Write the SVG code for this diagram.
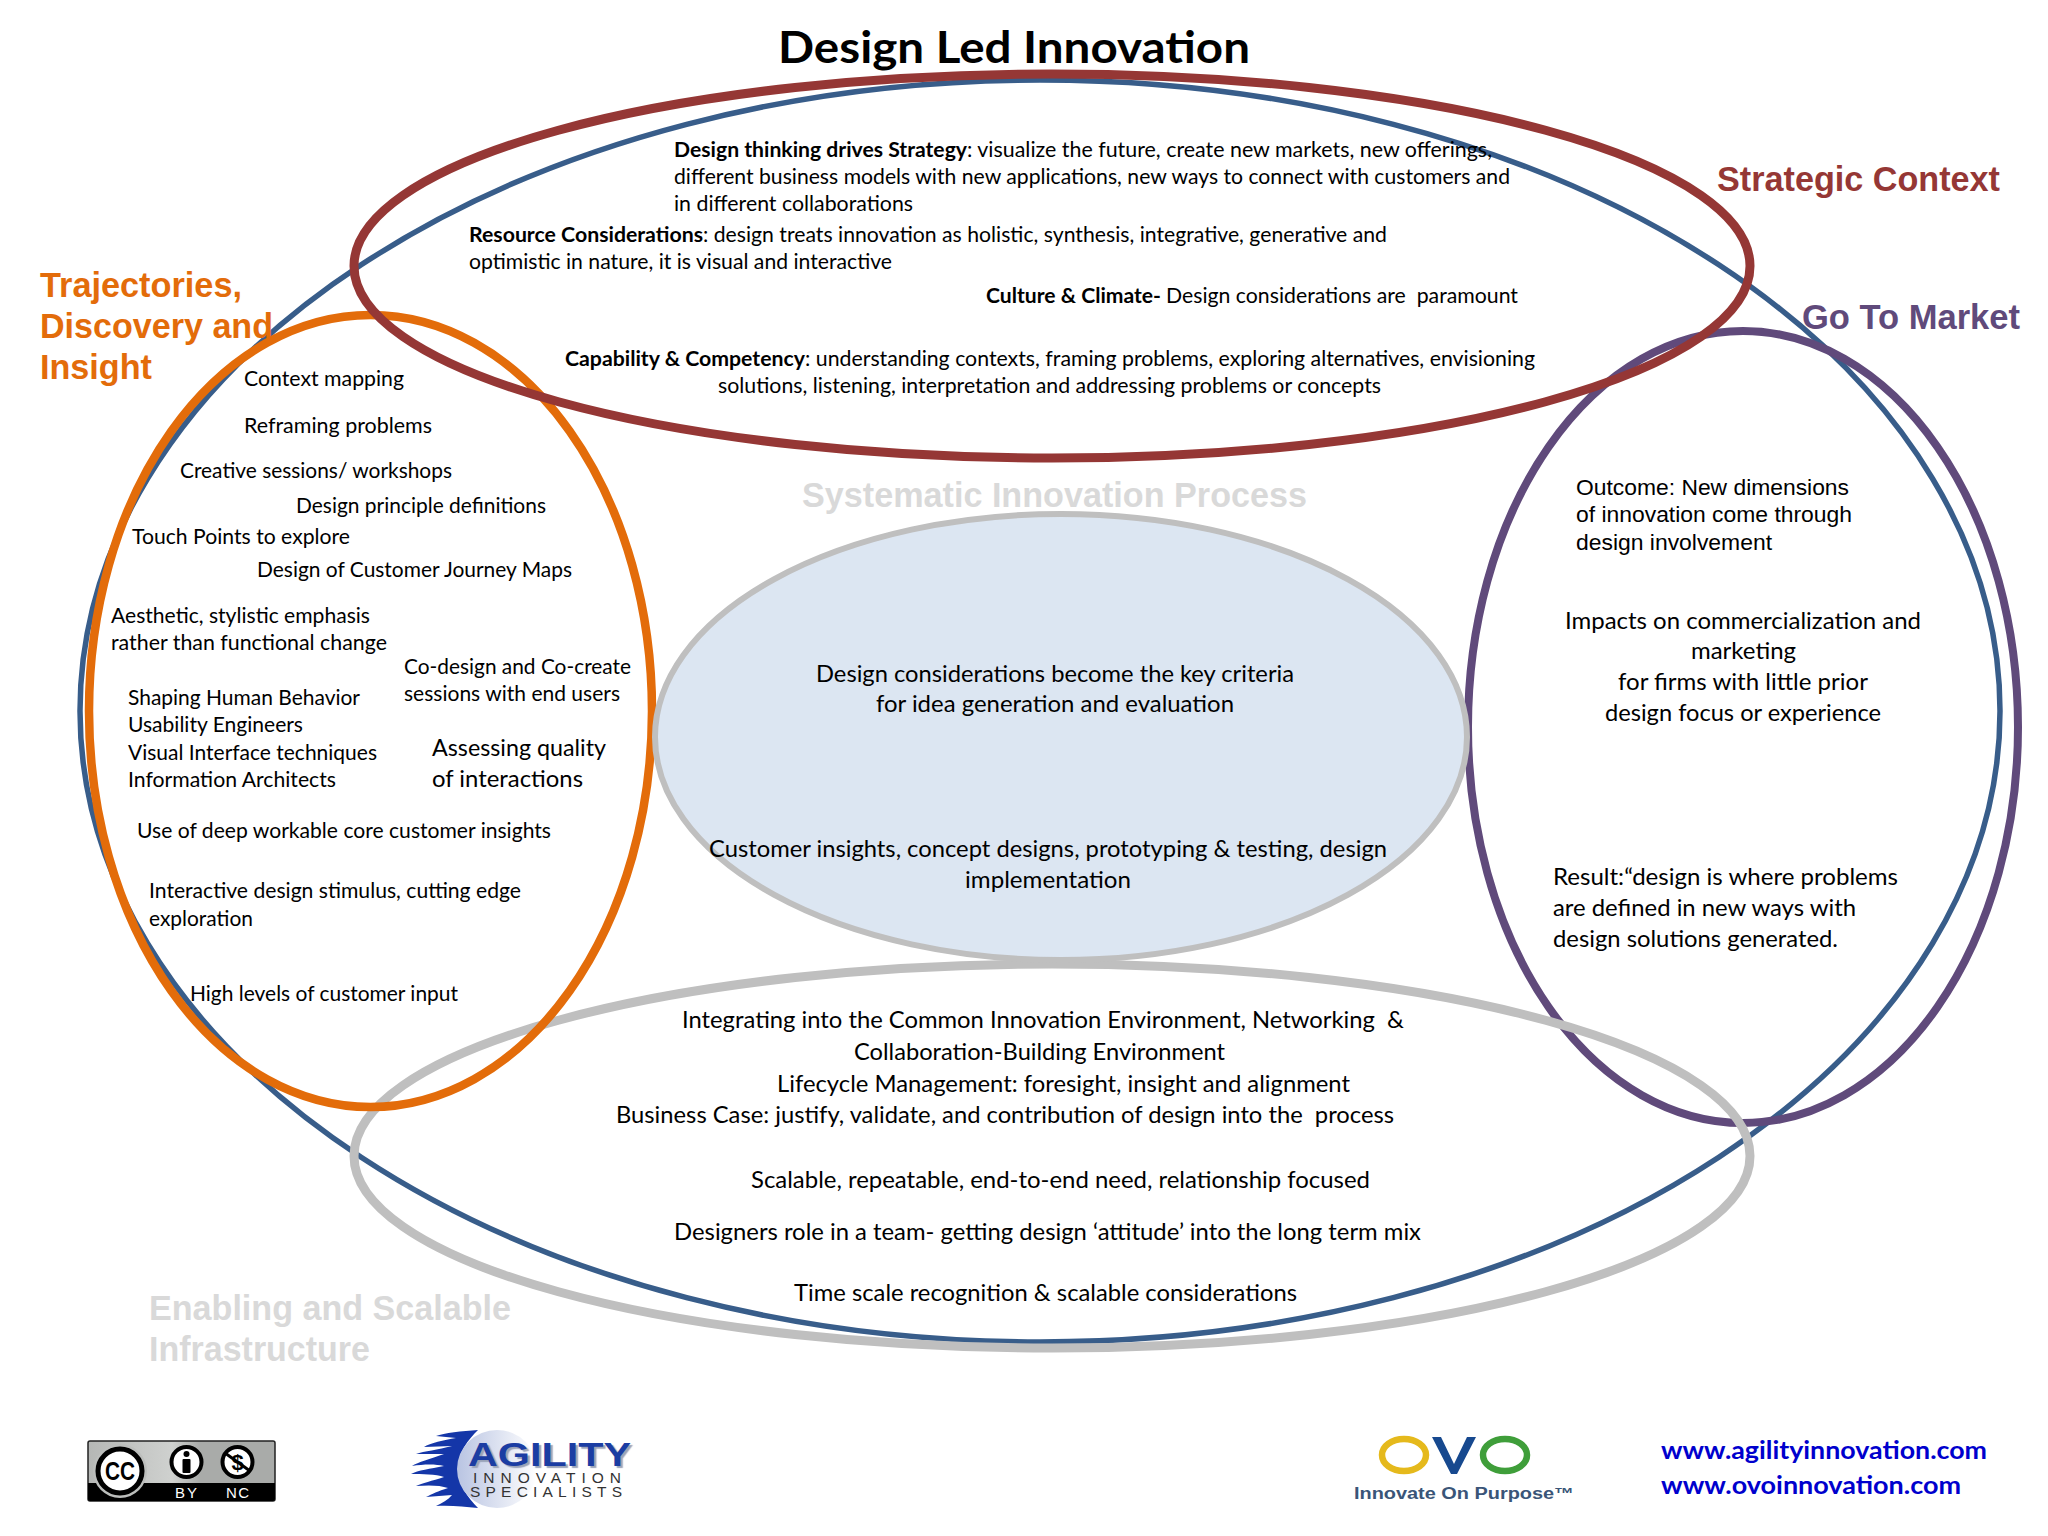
<svg xmlns="http://www.w3.org/2000/svg" width="2048" height="1536" viewBox="0 0 2048 1536">
<defs>
<style>
text{font-family:"Lato","Carlito","Liberation Sans",sans-serif;fill:#000;font-size:20.5px}
.ar{font-family:"Liberation Sans",Arial,sans-serif}
.hd{font-family:"Liberation Sans",Arial,sans-serif;font-weight:700;font-size:35px}
.m{font-size:23px}
.b{font-weight:700}
.e{fill:none}
</style>
<linearGradient id="sw" x1="0" x2="1" y1="0" y2="0"><stop offset="0" stop-color="#b9c4e2"/><stop offset="1" stop-color="#fff"/></linearGradient>
<linearGradient id="cg" x1="0" x2="1" y1="0" y2="0"><stop offset="0" stop-color="#b5b7b5"/><stop offset=".45" stop-color="#cfd1cf"/><stop offset=".6" stop-color="#a9aba9"/><stop offset="1" stop-color="#a9aba9"/></linearGradient>
</defs>
<rect width="2048" height="1536" fill="#fff"/>
<text id="title" class="b" x="778" y="63" style="font-size:44px" textLength="472" lengthAdjust="spacingAndGlyphs">Design Led Innovation</text>
<g id="systematic-outer"><ellipse class="e" cx="1040" cy="711" rx="960" ry="631" stroke="#385d8a" stroke-width="5.5"/></g>
<g id="market-shape"><ellipse class="e" cx="1743" cy="727" rx="275" ry="396" stroke="#604a7b" stroke-width="8"/></g>
<g id="enabling-shape"><ellipse class="e" cx="1052" cy="1156" rx="698" ry="192" stroke="#bfbfbf" stroke-width="9"/></g>
<g id="trajectories-shape"><ellipse class="e" cx="370.500" cy="711" rx="281.500" ry="396" stroke="#e36c0a" stroke-width="8.500"/></g>
<g id="strategic-shape"><ellipse class="e" cx="1052" cy="266" rx="698" ry="192" stroke="#953735" stroke-width="9"/></g>
<g id="process">
<ellipse cx="1061" cy="737" rx="406" ry="223" fill="#dce6f2" stroke="#bfbfbf" stroke-width="6"/>
<text class="hd" x="802" y="507" style="fill:#d9d9d9" textLength="505" lengthAdjust="spacingAndGlyphs">Systematic Innovation Process</text>
<text class="m" x="816" y="682" textLength="478" lengthAdjust="spacingAndGlyphs">Design considerations become the key criteria</text>
<text class="m" x="876" y="712" textLength="358" lengthAdjust="spacingAndGlyphs">for idea generation and evaluation</text>
<text class="m" x="709" y="857" textLength="678" lengthAdjust="spacingAndGlyphs">Customer insights, concept designs, prototyping &amp; testing, design</text>
<text class="m" x="965" y="888" textLength="166" lengthAdjust="spacingAndGlyphs">implementation</text>
</g>
<g id="strategic">
<text class="hd" x="1717" y="191" style="fill:#953735" textLength="283" lengthAdjust="spacingAndGlyphs">Strategic Context</text>
<text class="b" x="674" y="157" textLength="293" lengthAdjust="spacingAndGlyphs">Design thinking drives Strategy</text>
<text x="967" y="157" textLength="525" lengthAdjust="spacingAndGlyphs">: visualize the future, create new markets, new offerings,</text>
<text x="674" y="184" textLength="836" lengthAdjust="spacingAndGlyphs">different business models with new applications, new ways to connect with customers and</text>
<text x="674" y="211" textLength="239" lengthAdjust="spacingAndGlyphs">in different collaborations</text>
<text class="b" x="469" y="242" textLength="234" lengthAdjust="spacingAndGlyphs">Resource Considerations</text>
<text x="703" y="242" textLength="684" lengthAdjust="spacingAndGlyphs">: design treats innovation as holistic, synthesis, integrative, generative and</text>
<text x="469" y="269" textLength="423" lengthAdjust="spacingAndGlyphs">optimistic in nature, it is visual and interactive</text>
<text class="b" x="986" y="303" textLength="175" lengthAdjust="spacingAndGlyphs">Culture &amp; Climate-</text>
<text x="1166" y="303" textLength="352" lengthAdjust="spacingAndGlyphs" xml:space="preserve">Design considerations are  paramount</text>
<text class="b" x="565" y="366" textLength="240" lengthAdjust="spacingAndGlyphs">Capability &amp; Competency</text>
<text x="805" y="366" textLength="730" lengthAdjust="spacingAndGlyphs">: understanding contexts, framing problems, exploring alternatives, envisioning</text>
<text x="718" y="393" textLength="663" lengthAdjust="spacingAndGlyphs">solutions, listening, interpretation and addressing problems or concepts</text>
</g>
<g id="trajectories">
<text class="hd" x="40" y="297" style="fill:#e36c0a" textLength="202" lengthAdjust="spacingAndGlyphs">Trajectories,</text>
<text class="hd" x="40" y="338" style="fill:#e36c0a" textLength="233" lengthAdjust="spacingAndGlyphs">Discovery and</text>
<text class="hd" x="40" y="379" style="fill:#e36c0a" textLength="112" lengthAdjust="spacingAndGlyphs">Insight</text>
<text x="244" y="386" textLength="160" lengthAdjust="spacingAndGlyphs">Context mapping</text>
<text x="244" y="433" textLength="188" lengthAdjust="spacingAndGlyphs">Reframing problems</text>
<text x="180" y="478" textLength="272" lengthAdjust="spacingAndGlyphs">Creative sessions/ workshops</text>
<text x="296" y="513" textLength="250" lengthAdjust="spacingAndGlyphs">Design principle definitions</text>
<text x="132" y="544" textLength="218" lengthAdjust="spacingAndGlyphs">Touch Points to explore</text>
<text x="257" y="577" textLength="315" lengthAdjust="spacingAndGlyphs">Design of Customer Journey Maps</text>
<text x="111" y="623" textLength="259" lengthAdjust="spacingAndGlyphs">Aesthetic, stylistic emphasis</text>
<text x="111" y="650" textLength="276" lengthAdjust="spacingAndGlyphs">rather than functional change</text>
<text x="404" y="674" textLength="227" lengthAdjust="spacingAndGlyphs">Co-design and Co-create</text>
<text x="404" y="701" textLength="216" lengthAdjust="spacingAndGlyphs">sessions with end users</text>
<text x="128" y="705" textLength="232" lengthAdjust="spacingAndGlyphs">Shaping Human Behavior</text>
<text x="128" y="732" textLength="175" lengthAdjust="spacingAndGlyphs">Usability Engineers</text>
<text x="128" y="760" textLength="249" lengthAdjust="spacingAndGlyphs">Visual Interface techniques</text>
<text x="128" y="787" textLength="208" lengthAdjust="spacingAndGlyphs">Information Architects</text>
<text class="m" x="432" y="756" textLength="174" lengthAdjust="spacingAndGlyphs">Assessing quality</text>
<text class="m" x="432" y="787" textLength="151" lengthAdjust="spacingAndGlyphs">of interactions</text>
<text x="137" y="838" textLength="414" lengthAdjust="spacingAndGlyphs">Use of deep workable core customer insights</text>
<text x="149" y="898" textLength="372" lengthAdjust="spacingAndGlyphs">Interactive design stimulus, cutting edge</text>
<text x="149" y="926" textLength="104" lengthAdjust="spacingAndGlyphs">exploration</text>
<text x="190" y="1001" textLength="268" lengthAdjust="spacingAndGlyphs">High levels of customer input</text>
</g>
<g id="market">
<text class="hd" x="1802" y="329" style="fill:#604a7b" textLength="218" lengthAdjust="spacingAndGlyphs">Go To Market</text>
<text class="ar" x="1576" y="495" style="font-size:22px" textLength="273" lengthAdjust="spacingAndGlyphs">Outcome: New dimensions</text>
<text class="ar" x="1576" y="522" style="font-size:22px" textLength="276" lengthAdjust="spacingAndGlyphs">of innovation come through</text>
<text class="ar" x="1576" y="550" style="font-size:22px" textLength="196" lengthAdjust="spacingAndGlyphs">design involvement</text>
<text class="m" x="1565" y="629" textLength="356" lengthAdjust="spacingAndGlyphs">Impacts on commercialization and</text>
<text class="m" x="1691" y="659" textLength="105" lengthAdjust="spacingAndGlyphs">marketing</text>
<text class="m" x="1618" y="690" textLength="250" lengthAdjust="spacingAndGlyphs">for firms with little prior</text>
<text class="m" x="1605" y="721" textLength="276" lengthAdjust="spacingAndGlyphs">design focus or experience</text>
<text class="m" x="1553" y="885" textLength="345" lengthAdjust="spacingAndGlyphs">Result:“design is where problems</text>
<text class="m" x="1553" y="916" textLength="303" lengthAdjust="spacingAndGlyphs">are defined in new ways with</text>
<text class="m" x="1553" y="947" textLength="285" lengthAdjust="spacingAndGlyphs">design solutions generated.</text>
</g>
<g id="enabling">
<text class="hd" x="149" y="1320" style="fill:#d9d9d9" textLength="362" lengthAdjust="spacingAndGlyphs">Enabling and Scalable</text>
<text class="hd" x="149" y="1361" style="fill:#d9d9d9" textLength="221" lengthAdjust="spacingAndGlyphs">Infrastructure</text>
<text class="m" x="682" y="1028" textLength="722" lengthAdjust="spacingAndGlyphs" xml:space="preserve">Integrating into the Common Innovation Environment, Networking  &amp;</text>
<text class="m" x="854" y="1060" textLength="371" lengthAdjust="spacingAndGlyphs">Collaboration-Building Environment</text>
<text class="m" x="777" y="1092" textLength="573" lengthAdjust="spacingAndGlyphs">Lifecycle Management: foresight, insight and alignment</text>
<text class="m" x="616" y="1123" textLength="778" lengthAdjust="spacingAndGlyphs" xml:space="preserve">Business Case: justify, validate, and contribution of design into the  process</text>
<text class="m" x="751" y="1188" textLength="619" lengthAdjust="spacingAndGlyphs">Scalable, repeatable, end-to-end need, relationship focused</text>
<text class="m" x="674" y="1240" textLength="747" lengthAdjust="spacingAndGlyphs">Designers role in a team- getting design ‘attitude’ into the long term mix</text>
<text class="m" x="794" y="1301" textLength="503" lengthAdjust="spacingAndGlyphs">Time scale recognition &amp; scalable considerations</text>
</g>
<g id="cc-badge">
<rect x="88" y="1441" width="187" height="60" rx="2" fill="url(#cg)" stroke="#222" stroke-width="1.5"/>
<path d="M88 1483H275V1499a2 2 0 0 1-2 2H90a2 2 0 0 1-2-2Z" fill="#000"/>
<circle cx="120" cy="1471" r="27" fill="#bcbebc"/>
<circle cx="120" cy="1471" r="22" fill="#fff" stroke="#000" stroke-width="5"/>
<text class="ar b" x="105" y="1480" style="font-size:25px" textLength="30" lengthAdjust="spacingAndGlyphs">CC</text>
<circle cx="186.500" cy="1462" r="15" fill="#fff" stroke="#000" stroke-width="4"/>
<circle cx="186.500" cy="1454" r="3" fill="#000"/>
<rect x="182.500" y="1459" width="8" height="14" rx="1" fill="#000"/>
<circle cx="237.500" cy="1462" r="15" fill="#fff" stroke="#000" stroke-width="4"/>
<text class="ar b" x="237.500" y="1470" text-anchor="middle" style="font-size:22px">$</text>
<path d="M225 1453L250 1471" stroke="#000" stroke-width="3"/>
<text class="ar" x="175" y="1498" style="font-size:15px;fill:#fff" textLength="22" lengthAdjust="spacing">BY</text>
<text class="ar" x="226" y="1498" style="font-size:15px;fill:#fff" textLength="23" lengthAdjust="spacing">NC</text>
</g>
<g id="agility-logo">
<path d="M478 1430C462 1431 444 1433 436 1436L456 1438C444 1440 430 1443 424 1447L452 1446C438 1450 424 1451 416 1454L444 1454C430 1459 418 1462 412 1466C424 1464 436 1464 444 1466C430 1469 418 1470 411 1474C422 1474 436 1474 444 1477C432 1481 422 1483 416 1486C428 1485 440 1485 448 1488C438 1491 432 1494 426 1497L452 1495C448 1500 442 1503 436 1506C452 1505 464 1507 478 1508C468 1498 458 1484 458 1469C458 1452 468 1440 478 1430Z" fill="#1436a8"/>
<ellipse cx="497" cy="1469" rx="40" ry="39" fill="url(#sw)"/>
<text class="ar b" x="468" y="1466" style="font-size:33px;fill:#1b3da3;text-shadow:2px 2px 1px #9aa3b8" textLength="163" lengthAdjust="spacingAndGlyphs">AGILITY</text>
<text class="ar" x="473" y="1483" style="font-size:15.500px;fill:#333" textLength="148" lengthAdjust="spacing">INNOVATION</text>
<text class="ar" x="470" y="1497" style="font-size:15.500px;fill:#333" textLength="152" lengthAdjust="spacing">SPECIALISTS</text>
</g>
<g id="ovo-logo">
<ellipse cx="1404" cy="1455" rx="22" ry="16" fill="none" stroke="#e5b91c" stroke-width="6.500"/>
<path d="M1432 1437H1441L1454 1464L1467 1437H1476L1457 1474H1451Z" fill="#17498f"/>
<ellipse cx="1505" cy="1455" rx="22" ry="16" fill="none" stroke="#3f9e3a" stroke-width="6.500"/>
<text class="ar b" x="1354" y="1499" style="font-size:16px;fill:#3a5578" textLength="220" lengthAdjust="spacingAndGlyphs">Innovate On Purpose™</text>
</g>
<g id="links">
<text class="b" x="1661" y="1459" style="font-size:25px;fill:#0000cd" textLength="326" lengthAdjust="spacingAndGlyphs">www.agilityinnovation.com</text>
<text class="b" x="1661" y="1494" style="font-size:25px;fill:#0000cd" textLength="300" lengthAdjust="spacingAndGlyphs">www.ovoinnovation.com</text>
</g>
</svg>
